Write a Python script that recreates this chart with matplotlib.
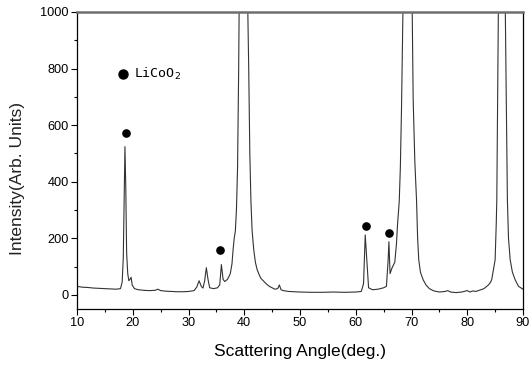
import matplotlib
matplotlib.use("Agg")
import matplotlib.pyplot as plt
from matplotlib.ticker import MultipleLocator

# XRD pattern (2theta in degrees, intensity)
angle = [10, 11, 12, 13, 14, 15, 16, 17, 17.8, 18.1, 18.3, 18.45, 18.6, 18.75, 18.9, 19.1,
         19.3, 19.5, 19.7, 19.9, 20.3, 21, 22, 23, 24, 24.5, 25, 26, 27, 28, 29, 30, 31,
         31.5, 31.9, 32.3, 32.6, 32.9, 33.2, 33.5, 33.8, 34.5, 35.2, 35.6, 35.9, 36.2,
         36.5, 37.0, 37.5, 37.8, 38.0, 38.2, 38.4, 38.6, 38.8, 39.0, 39.1, 39.9, 40.6,
         40.8, 41.0, 41.2, 41.4, 41.7, 42.0, 42.3, 42.7, 43.0, 43.4, 44.0, 44.5, 45.0,
         45.5, 46.0, 46.3, 46.6, 47, 48, 49, 50, 52, 54, 56, 58, 60, 61.0, 61.4, 61.7,
         62.0, 62.3, 63, 64, 65, 65.5, 65.8, 65.95, 66.15, 66.5, 67.0, 67.3, 67.5, 67.8,
         68.0, 68.2, 68.4, 68.5, 69.3, 70.1, 70.3, 70.6, 70.9, 71.1, 71.3, 71.6, 72.1,
         72.6, 73.2, 74, 75, 76, 76.5, 77, 78, 79, 80, 80.5, 81, 81.5, 82, 83, 83.8,
         84.2, 84.4, 84.7, 85.0, 85.2, 85.3, 85.45, 85.6, 86.2, 86.8, 87.0, 87.2, 87.4,
         87.7, 88.1, 88.6, 89.2, 90]
intensity = [30, 27, 26, 24, 23, 22, 21, 20, 22, 45, 130, 330, 524, 380, 150, 75,
             50, 55, 62, 35, 22, 18, 16, 15, 16, 20, 15, 13, 12, 11, 11, 12, 15,
             28, 50, 30, 24, 50, 96, 55, 25, 22, 25, 35, 107, 55,
             47, 55, 75, 110, 160, 200, 225, 300, 450, 800, 1050, 3000, 1050,
             800, 500, 330, 230, 160, 115, 90, 70, 58, 50, 38, 30, 25,
             20, 22, 35, 18, 15, 12, 11, 10, 9, 9, 10, 9, 10, 12, 40, 212,
             120, 25, 18, 20, 25, 30, 120, 188, 75, 95, 115, 180, 250, 330,
             450, 650, 900, 1050, 3000, 1050, 690, 470, 336, 200, 124, 80, 53,
             35, 22, 14, 10, 12, 15, 10, 8, 10, 15, 10, 14, 12, 15, 22, 35,
             45, 55, 90, 124, 250, 336, 690, 1050, 3000, 1050, 690, 336, 200,
             124, 80, 53, 30, 20]

# LiCoO2 peak markers
marker_x = [18.8, 35.6, 61.9, 65.9]
marker_y = [572, 157, 244, 220]
legend_x = [18.2]
legend_y = [781]
legend_text = "LiCoO$_2$"

fig = plt.figure(figsize=(5.31, 3.66), dpi=100)
ax = fig.add_axes([77/531, 1-309/366, 446/531, 297/366])

ax.plot(angle, intensity, color="#333333", lw=0.8)
ax.plot(marker_x, marker_y, "o", color="black", ms=5.2)
ax.plot(legend_x, legend_y, "o", color="black", ms=6.5)
ax.text(20.2, 781, legend_text, fontsize=9.5, family="DejaVu Sans Mono", va="center", ha="left")

ax.set_xlim(10, 90)
ax.set_ylim(-50, 1000)
ax.xaxis.set_major_locator(MultipleLocator(10))
ax.xaxis.set_minor_locator(MultipleLocator(5))
ax.yaxis.set_major_locator(MultipleLocator(200))
ax.yaxis.set_minor_locator(MultipleLocator(100))
ax.tick_params(which="major", direction="out", length=4.5, width=0.8, labelsize=9.2, pad=1.5)
ax.tick_params(which="minor", direction="out", length=2.5, width=0.8)
for lab in ax.get_xticklabels() + ax.get_yticklabels():
    lab.set_family("Liberation Sans")

ax.spines["top"].set_color("#6e6e6e")
ax.spines["top"].set_linewidth(1.8)
for s in ["left", "bottom", "right"]:
    ax.spines[s].set_linewidth(0.9)
    ax.spines[s].set_color("black")

ax.set_xlabel("Scattering Angle(deg.)", fontsize=12.5, family="Liberation Sans")
ax.xaxis.set_label_coords(0.5, -0.118)
ax.set_ylabel("Intensity(Arb. Units)", fontsize=12.5, family="Liberation Sans", color="#222222")
ax.yaxis.set_label_coords(-0.117, 0.44)

fig.savefig("out.png", dpi=100)
